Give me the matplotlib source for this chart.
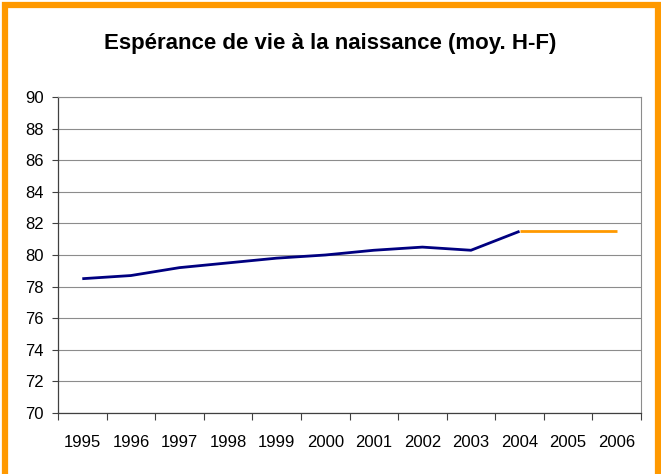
"""Espérance de vie à la naissance (moyenne hommes-femmes), 1995-2006."""

import matplotlib.pyplot as plt
from matplotlib.patches import Rectangle

YEARS = ["1995", "1996", "1997", "1998", "1999", "2000",
         "2001", "2002", "2003", "2004", "2005", "2006"]
OBSERVED = [78.5, 78.7, 79.2, 79.5, 79.8, 80.0, 80.3, 80.5, 80.3, 81.5]
PROJECTED_YEARS = ["2004", "2005", "2006"]
PROJECTED = [81.5, 81.5, 81.5]
Y_TICKS = [70, 72, 74, 76, 78, 80, 82, 84, 86, 88, 90]

NAVY = "#000080"
ORANGE = "#FF9900"

plt.rcParams["font.family"] = ["Liberation Sans", "DejaVu Sans"]

fig = plt.figure(figsize=(6.61, 4.74), dpi=100)
# orange frame: left/top/right visible, bottom edge falls outside the image
fig.patches.append(Rectangle((5 / 661, -0.1), 653 / 661, 1.1 - 5 / 474,
                             transform=fig.transFigure, fill=False,
                             edgecolor=ORANGE, linewidth=4.5))

ax = fig.add_axes([58 / 661, 61 / 474, 583 / 661, 316 / 474])

pos = {year: i for i, year in enumerate(YEARS)}
ax.plot([pos[y] for y in YEARS[:len(OBSERVED)]], OBSERVED, color=NAVY, lw=2.0,
        solid_capstyle="butt", zorder=3)
ax.plot([pos[y] for y in PROJECTED_YEARS], PROJECTED, color=ORANGE, lw=2.0,
        solid_capstyle="butt", zorder=3)

ax.set_xlim(-0.5, len(YEARS) - 0.5)
ax.set_ylim(Y_TICKS[0], Y_TICKS[-1])
ax.set_yticks(Y_TICKS)
ax.grid(axis="y", color="#8c8c8c", linewidth=0.8)
ax.set_axisbelow(True)

ax.set_xticks(range(len(YEARS)))
ax.set_xticklabels(YEARS)
ax.set_xticks([i - 0.5 for i in range(len(YEARS) + 1)], minor=True)
ax.tick_params(axis="x", which="major", length=0, pad=16, labelsize=12)
ax.tick_params(axis="x", which="minor", length=5, width=0.8, color="#404040")
ax.tick_params(axis="y", length=4, width=0.8, pad=6, labelsize=12, color="#404040")

for side in ("top", "right"):
    ax.spines[side].set_color("#8c8c8c")
    ax.spines[side].set_linewidth(0.8)
for side in ("left", "bottom"):
    ax.spines[side].set_color("#404040")
    ax.spines[side].set_linewidth(0.9)

fig.text(0.5, 1 - 43 / 474, "Espérance de vie à la naissance (moy. H-F)",
         ha="center", va="center", fontsize=16, fontweight="bold")

fig.savefig("out.png", dpi=100)
